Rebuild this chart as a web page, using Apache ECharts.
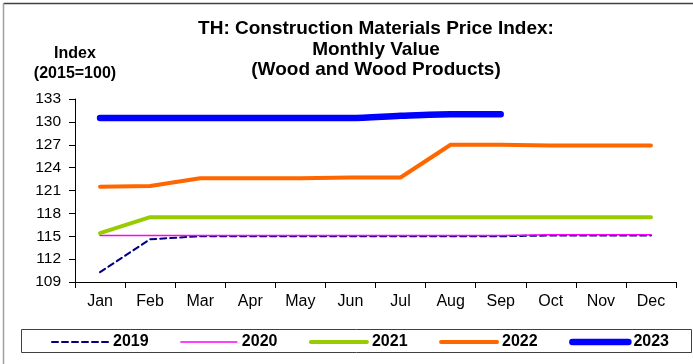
<!DOCTYPE html>
<html>
<head>
<meta charset="utf-8">
<script src="https://cdn.jsdelivr.net/npm/echarts@6/dist/echarts.min.js"></script>
<style>
  html, body { margin: 0; padding: 0; background: #fff; }
  #chart { width: 693px; height: 364px; }
</style>
</head>
<body>
<div id="chart"></div>
<script>
// Month categories and index values (2015 = 100)
const months = ['Jan', 'Feb', 'Mar', 'Apr', 'May', 'Jun', 'Jul', 'Aug', 'Sep', 'Oct', 'Nov', 'Dec'];
const yearLabels = ['2019', '2020', '2021', '2022', '2023'];
const y2019 = [110.3, 114.6, 115.0, 115.0, 115.0, 115.0, 115.0, 115.0, 115.0, 115.1, 115.1, 115.1];
const y2020 = [115.1, 115.1, 115.1, 115.1, 115.1, 115.1, 115.1, 115.1, 115.1, 115.2, 115.2, 115.2];
const y2021 = [115.4, 117.5, 117.5, 117.5, 117.5, 117.5, 117.5, 117.5, 117.5, 117.5, 117.5, 117.5];
const y2022 = [121.5, 121.6, 122.6, 122.6, 122.6, 122.7, 122.7, 127.0, 127.0, 126.9, 126.9, 126.9];
const y2023 = [130.5, 130.5, 130.5, 130.5, 130.5, 130.5, 130.8, 131.0, 131.0];

const font = 'Liberation Sans, Arial, sans-serif';

const styles = [
  { color: '#000080', width: 2, type: [6, 4] },
  { color: '#FF00FF', width: 1.5, type: 'solid' },
  { color: '#99CC00', width: 4, type: 'solid' },
  { color: '#FF6600', width: 4, type: 'solid' },
  { color: '#0000FF', width: 6.5, type: 'solid' }
];
const values = [y2019, y2020, y2021, y2022, y2023];

const chart = echarts.init(document.getElementById('chart'), null, { renderer: 'canvas' });

chart.setOption({
  animation: false,
  backgroundColor: '#fff',
  title: {
    text: 'TH: Construction Materials Price Index:\nMonthly Value\n(Wood and Wood Products)',
    left: 376,
    textAlign: 'center',
    top: 19,
    padding: 0,
    textStyle: { fontFamily: font, fontWeight: 'bold', fontSize: 19, lineHeight: 20.5, color: '#000' }
  },
  graphic: [
    // outer frame (top and left edges)
    { type: 'line', shape: { x1: 3.5, y1: 3.5, x2: 693, y2: 3.5 }, style: { stroke: '#404040', lineWidth: 1.5 } },
    { type: 'line', shape: { x1: 3.5, y1: 3.5, x2: 3.5, y2: 364 }, style: { stroke: '#a0a0a0', lineWidth: 1.5 } },
    // legend box
    { type: 'rect', shape: { x: 21.5, y: 329.5, width: 670, height: 23 }, style: { fill: 'none', stroke: '#404040', lineWidth: 1 } },
    // y-axis caption
    { type: 'text', x: 75, y: 44, style: { text: 'Index\n(2015=100)', font: 'bold 16px ' + font, align: 'center', lineHeight: 20, fill: '#000' } }
  ],
  legend: {
    left: 51,
    top: 334,
    padding: 0,
    itemWidth: 56,
    itemHeight: 14,
    itemGap: 31.5,
    itemStyle: { opacity: 0 },
    textStyle: { fontFamily: font, fontWeight: 'bold', fontSize: 16, color: '#000' },
    data: yearLabels.map((n, i) => ({
      name: n,
      lineStyle: { width: styles[i].width, type: styles[i].type, cap: 'round' }
    }))
  },
  grid: { left: 75, top: 99, width: 601, height: 183, containLabel: false },
  xAxis: {
    type: 'category',
    data: months,
    boundaryGap: true,
    axisLine: { lineStyle: { color: '#000', width: 1 } },
    axisTick: { show: true, length: 6, lineStyle: { color: '#000' } },
    axisLabel: { fontFamily: font, fontSize: 16, color: '#000', margin: 12 }
  },
  yAxis: {
    type: 'value',
    min: 109,
    max: 133,
    interval: 3,
    splitLine: { show: false },
    axisLine: { show: true, lineStyle: { color: '#000', width: 1 } },
    axisTick: { show: true, length: 6, lineStyle: { color: '#000' } },
    axisLabel: { fontFamily: font, fontSize: 15.5, color: '#000', margin: 14 }
  },
  series: values.map((v, i) => ({
    name: yearLabels[i],
    type: 'line',
    data: v,
    showSymbol: false,
    symbol: 'none',
    smooth: i === 4 ? 0.3 : false,
    z: 2 + i,
    lineStyle: { color: styles[i].color, width: styles[i].width, type: styles[i].type, cap: 'round', join: 'round' },
    itemStyle: { color: styles[i].color }
  }))
});
</script>
</body>
</html>
